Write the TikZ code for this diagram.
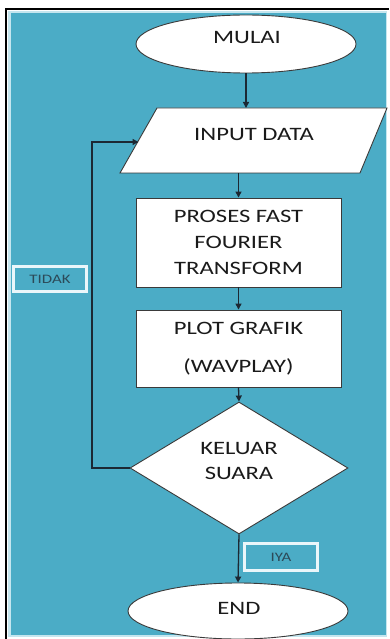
\documentclass[tikz,border=0pt]{standalone}
\usepackage{fontspec}
\setmainfont[FakeStretch=1.3]{Carlito}
\usetikzlibrary{shapes.geometric,arrows.meta}
\definecolor{teal1}{HTML}{4BACC6}
\definecolor{lightedge}{HTML}{C5E6EF}
\definecolor{lbledge}{HTML}{EAF6FA}
\definecolor{conn}{HTML}{1C2833}
\definecolor{shapeedge}{HTML}{3A3A3A}
\definecolor{txtc}{HTML}{1A1A1A}
\definecolor{lbltxt}{HTML}{2C4A58}
\begin{document}
\begin{tikzpicture}[x=1bp,y=-1bp,
  base/.style={draw=shapeedge,fill=white,line width=0.9bp,inner sep=0pt},
  term/.style={base,ellipse},
  procbox/.style={base,rectangle,align=center,text=txtc},
  decbox/.style={base,diamond},
  txt/.style={text=txtc,align=center,font=\fontsize{19}{26}\selectfont,inner sep=0pt},
  lbl/.style={draw=lbledge,fill=teal1,line width=3bp,text=lbltxt,font=\fontsize{13}{15}\selectfont,inner sep=0pt,minimum width=73bp},
  arr/.style={draw=conn,line width=1.3bp,-{Triangle[length=6bp,width=6bp]}},
  ln/.style={draw=conn,line width=1.3bp}]
\useasboundingbox (0,0) rectangle (389,639);
\fill[white] (0,0) rectangle (389,639);
\fill[lightedge] (8,11) rectangle (387,637);
\fill[teal1] (10.5,13) rectangle (386,635);
\draw[black,line width=2bp] (6,639) -- (6,9) -- (389,9);

\node[term,minimum width=220bp,minimum height=58bp] (mulai) at (246,44) {};
\node[txt] (mulait) at (247,37.5) {MULAI};

% parallelogram (input)
\coordinate (inpTL) at (157,108);
\coordinate (inpTR) at (387,108);
\coordinate (inpBR) at (360,173);
\coordinate (inpBL) at (120,173);
\draw[base] (inpTL) -- (inpTR) -- (inpBR) -- (inpBL) -- cycle;
\node[txt] (inp) at (254,134) {INPUT DATA};
\coordinate (inpW) at (138.5,142);

\node[procbox,minimum width=205bp,minimum height=89bp,font=\fontsize{19}{26}\selectfont] (proc) at (238.5,242.5) {PROSES FAST\\FOURIER\\TRANSFORM};

\node[procbox,minimum width=205bp,minimum height=77bp,font=\fontsize{19}{38}\selectfont] (plot) at (238.5,348.5) {PLOT GRAFIK\\(WAVPLAY)};

\node[decbox,minimum width=218bp,minimum height=132bp,aspect=1.65] (dec) at (239,468) {};
\node[txt] (dect) at (239,461) {KELUAR\\SUARA};

\node[term,minimum width=220bp,minimum height=56bp] (end) at (238,611) {};
\node[txt] (endt) at (239,608) {END};

\node[lbl,minimum height=25bp] (tidak) at (50,279) {TIDAK};
\node[lbl,minimum height=27bp] (iya) at (281,557) {IYA};

\coordinate (lp) at (92,468);

\draw[arr] (mulai.south) -- (mulai.south |- inpTL);
\draw[arr] (proc.north |- inpBL) -- (proc.north);
\draw[arr] (proc.south) -- (plot.north);
\draw[arr] (plot.south) -- (dec.north);
\draw[arr] (dec.south) -- (end.north);
\draw[arr] (dec.west) -- (lp) |- (inpW);
\end{tikzpicture}
\end{document}
